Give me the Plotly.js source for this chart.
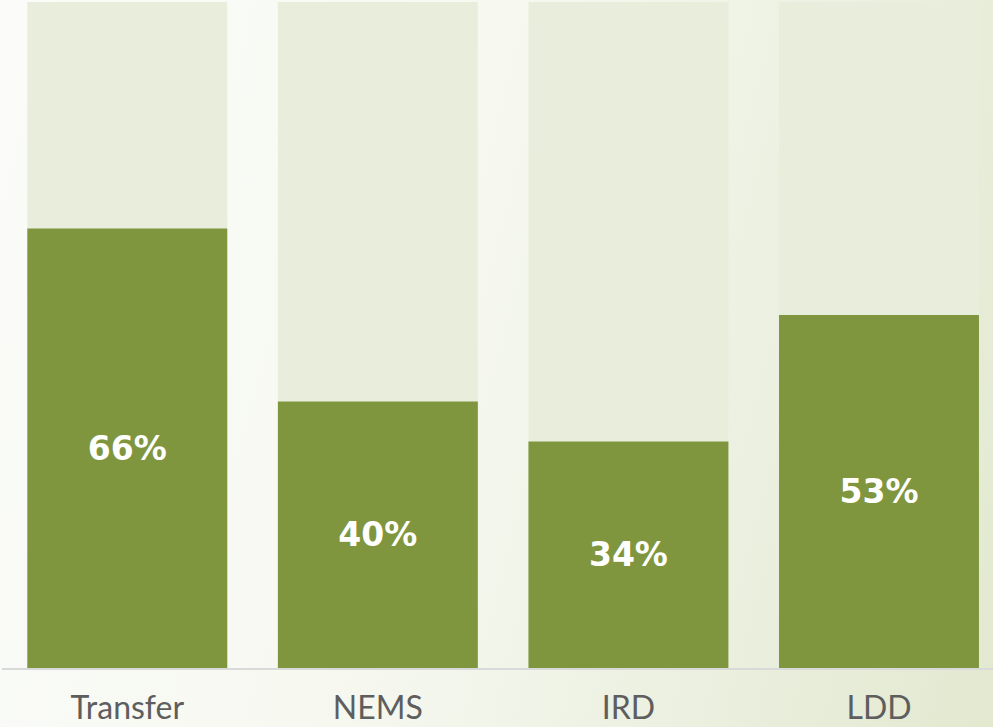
<!DOCTYPE html>
<html>
<head>
<meta charset="utf-8">
<script src="https://cdn.plot.ly/plotly-3.0.1.min.js"></script>
<style>
    html, body { margin: 0; padding: 0; }
    body {
        width: 993px; height: 727px; overflow: hidden;
        background: linear-gradient(105deg, #fbfcf9 0%, #f6f8f0 45%, #e9eedc 80%, #e2e9cf 100%);
    }
    #chart { width: 993px; height: 727px; }
</style>
</head>
<body>
<div id="chart"></div>
<script>
const CATEGORIES = ["Transfer", "NEMS", "IRD", "LDD"];
const SHARES = [0.66, 0.40, 0.34, 0.53];
const FULL = [1, 1, 1, 1];

const BAR_COLOR = "#7f963f";
const TRACK_COLOR = "#e8eedb";

const traces = [
    {
        // light "100%" track behind each bar
        type: "bar", x: CATEGORIES, y: FULL,
        marker: { color: TRACK_COLOR }, width: 0.798,
        hoverinfo: "skip", showlegend: false,
    },
    {
        type: "bar", x: CATEGORIES, y: SHARES,
        marker: { color: BAR_COLOR }, width: 0.798,
        text: SHARES.map((v) => Math.round(v * 100) + "%"),
        textposition: "inside", insidetextanchor: "middle", textangle: 0,
        textfont: { family: "DejaVu Sans", size: 33, color: "#ffffff", weight: "bold" },
        showlegend: false,
    },
];

const layout = {
    barmode: "overlay",
    margin: { t: 2, b: 59, l: 2, r: 0 },
    paper_bgcolor: "rgba(0,0,0,0)",
    plot_bgcolor: "rgba(0,0,0,0)",
    xaxis: {
        type: "category", range: [-0.5, 3.455],
        showline: true, linecolor: "#d9d9d9", linewidth: 2,
        ticks: "", showgrid: false, zeroline: false,
        ticklabelstandoff: 11,
        tickfont: { family: "Lato", size: 32, color: "#5e5e5e" },
    },
    yaxis: { range: [0, 1], visible: false, showgrid: false, zeroline: false },
    font: { family: "Lato" },
};

Plotly.newPlot("chart", traces, layout, { displayModeBar: false, responsive: false });
</script>
</body>
</html>
